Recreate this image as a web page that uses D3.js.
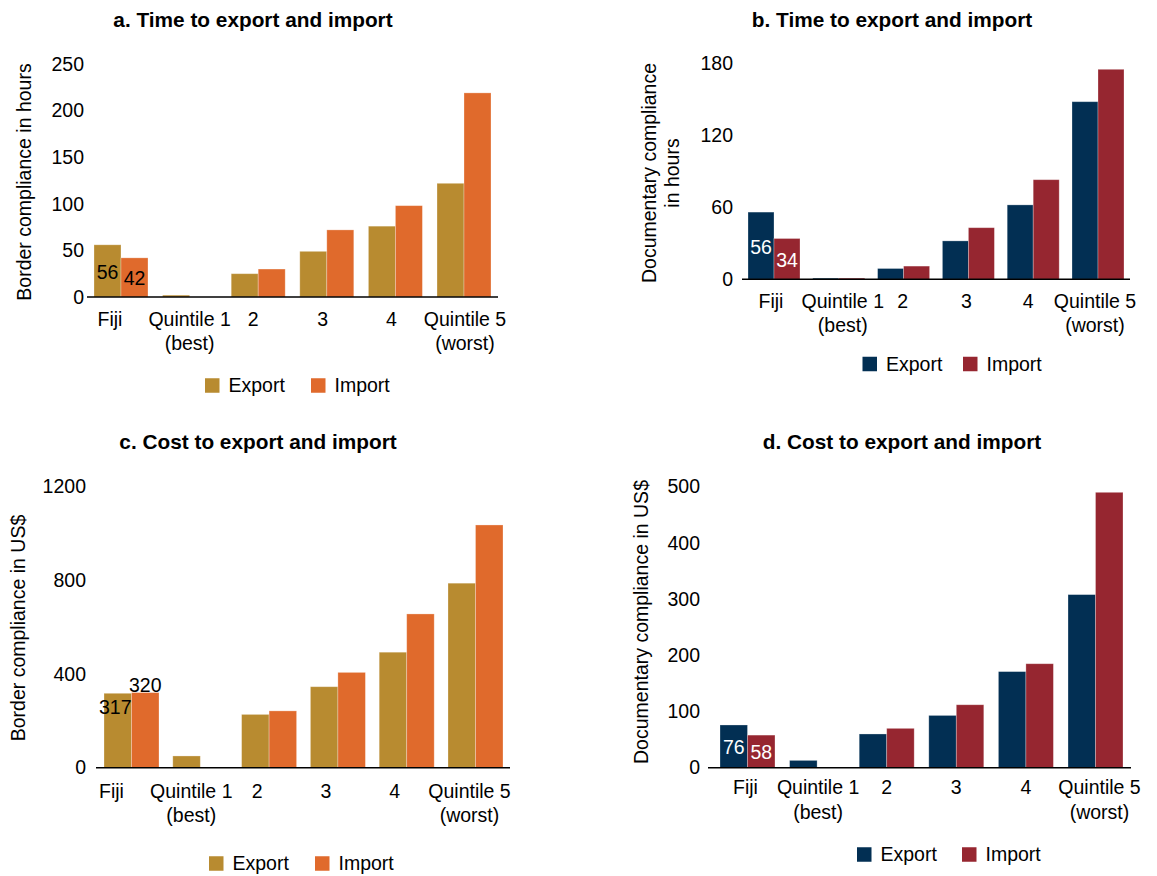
<!DOCTYPE html>
<html>
<head>
<meta charset="utf-8">
<script src="https://cdn.jsdelivr.net/npm/d3@7/dist/d3.min.js"></script>
<style>
  html, body { margin: 0; padding: 0; background: #fff; }
  svg { display: block; font-family: "Liberation Sans", Arial, Helvetica, sans-serif; }
</style>
</head>
<body>
<svg id="chart" width="1157" height="876"></svg>
<script>
// ---- Data ----
const categories = [["Fiji"], ["Quintile 1", "(best)"], ["2"], ["3"], ["4"], ["Quintile 5", "(worst)"]];
const seriesNames = ["Export", "Import"];

const timeBorderExport = [56, 2, 25, 49, 76, 122];
const timeBorderImport = [42, 0, 30, 72, 98, 219];
const timeDocExport    = [56, 1, 9, 32, 62, 148];
const timeDocImport    = [34, 1, 11, 43, 83, 175];
const costBorderExport = [317, 50, 227, 345, 492, 786];
const costBorderImport = [320, 0, 242, 406, 655, 1034];
const costDocExport    = [76, 13, 60, 93, 171, 308];
const costDocImport    = [58, 0, 70, 112, 185, 490];

const ticksA = [0, 50, 100, 150, 200, 250];
const ticksB = [0, 60, 120, 180];
const ticksC = [0, 400, 800, 1200];
const ticksD = [0, 100, 200, 300, 400, 500];

const titles = ["a. Time to export and import", "b. Time to export and import",
                "c. Cost to export and import", "d. Cost to export and import"];
const yTitles = [["Border compliance in hours"], ["Documentary compliance", "in hours"],
                 ["Border compliance in US$"], ["Documentary compliance in US$"]];

// ---- Styles / layout ----
const warm = ["#B88B30", "#E06A2C"];
const cool = ["#022F53", "#962630"];
const FS = 19.5;

const panels = [
  { title: titles[0], titleX: 253, titleY: 20, yTitle: yTitles[0], yTitleX: 24, yTitleY: 182,
    exp: timeBorderExport, imp: timeBorderImport, ticks: ticksA, yMax: 250, yRange: [297, 64], tickX: 84,
    xRange: [94, 491], pad: 0.213, axis: [87, 498], label1Y: 319, labelDx: [-11, 0, -5, -4, -4, 1],
    legendY: 385.5, legendX: [205, 311], colors: warm, valColor: "#000", valMode: "mid" },
  { title: titles[1], titleX: 892, titleY: 20, yTitle: yTitles[1], yTitleX: 660.5, yTitleY: 173,
    exp: timeDocExport, imp: timeDocImport, ticks: ticksB, yMax: 180, yRange: [279.3, 63.3], tickX: 733,
    xRange: [748, 1124], pad: 0.1975, axis: [742, 1130], label1Y: 301, labelDx: [-3, 4, -1, -2, -5, -3],
    legendY: 364, legendX: [862.5, 963], colors: cool, valColor: "#fff", valMode: "mid" },
  { title: titles[2], titleX: 258, titleY: 442, yTitle: yTitles[2], yTitleX: 18, yTitleY: 628,
    exp: costBorderExport, imp: costBorderImport, ticks: ticksC, yMax: 1200, yRange: [767.7, 486], tickX: 86,
    xRange: [104, 503], pad: 0.2006, axis: [96, 510], label1Y: 790.7, labelDx: [-20, -9, -12, -12, -12, -6],
    legendY: 863.5, legendX: [209, 315], colors: warm, valColor: "#000", valMode: "c" },
  { title: titles[3], titleX: 902, titleY: 442, yTitle: yTitles[3], yTitleX: 641, yTitleY: 622,
    exp: costDocExport, imp: costDocImport, ticks: ticksD, yMax: 500, yRange: [767.7, 486.7], tickX: 700,
    xRange: [720, 1123], pad: 0.21, axis: [708, 1131], label1Y: 787.3, labelDx: [-2, 1, 0, 0, 0, 4],
    legendY: 854.5, legendX: [857, 962], colors: cool, valColor: "#fff", valMode: "mid" }
];

const svg = d3.select("#chart");

panels.forEach(p => {
  const g = svg.append("g");
  const idx = d3.range(categories.length);
  const x = d3.scaleBand().domain(idx).range(p.xRange).paddingInner(p.pad).paddingOuter(0);
  const xs = d3.scaleBand().domain([0, 1]).range([0, x.bandwidth()]).padding(0);
  const y = d3.scaleLinear().domain([0, p.yMax]).range(p.yRange);

  // title
  g.append("text").attr("x", p.titleX).attr("y", p.titleY).attr("dy", "0.35em")
    .attr("text-anchor", "middle").attr("font-weight", "bold").attr("font-size", 20.8)
    .attr("fill", "#000").text(p.title);

  // y axis (labels only, no line)
  const yAxis = d3.axisLeft(y).tickValues(p.ticks).tickFormat(d3.format("d")).tickSize(0).tickPadding(0);
  const ya = g.append("g").attr("transform", `translate(${p.tickX},0)`).call(yAxis);
  ya.select(".domain").remove();
  ya.selectAll("text").attr("font-size", FS).attr("fill", "#000")
    .attr("font-family", "'Liberation Sans', Arial, Helvetica, sans-serif");

  // y title
  const yt = g.append("text").attr("transform", `translate(${p.yTitleX},${p.yTitleY}) rotate(-90)`)
    .attr("text-anchor", "middle").attr("font-size", FS).attr("fill", "#000");
  const nL = p.yTitle.length;
  p.yTitle.forEach((t, i) => {
    yt.append("tspan").attr("x", 0).attr("y", (i - (nL - 1) / 2) * 23).attr("dy", "0.35em").text(t);
  });

  // bars
  const rows = [];
  idx.forEach(i => {
    rows.push({ i, s: 0, v: p.exp[i] });
    rows.push({ i, s: 1, v: p.imp[i] });
  });
  g.selectAll("rect.bar").data(rows).enter().append("rect").attr("class", "bar")
    .attr("x", d => x(d.i) + xs(d.s))
    .attr("y", d => y(d.v))
    .attr("width", xs.bandwidth())
    .attr("height", d => y(0) - y(d.v))
    .attr("fill", d => p.colors[d.s])
    .attr("stroke", "#fff").attr("stroke-opacity", 0.35).attr("stroke-width", 0.8);

  // baseline axis
  g.append("line").attr("x1", p.axis[0]).attr("x2", p.axis[1])
    .attr("y1", y(0)).attr("y2", y(0)).attr("stroke", "#000").attr("stroke-width", 1.4);

  // x labels
  idx.forEach(i => {
    const t = g.append("text").attr("text-anchor", "middle").attr("font-size", FS).attr("fill", "#000");
    categories[i].forEach((line, k) => {
      t.append("tspan").attr("x", x(i) + x.bandwidth() / 2 + p.labelDx[i])
        .attr("y", p.label1Y + k * 24.5).attr("dy", "0.35em").text(line);
    });
  });

  // value labels for Fiji
  const ex = p.exp[0], im = p.imp[0];
  if (p.valMode === "mid") {
    [[0, ex], [1, im]].forEach(([s, v]) => {
      g.append("text").attr("x", x(0) + xs(s) + xs.bandwidth() / 2)
        .attr("y", (y(v) + y(0)) / 2 + 1).attr("dy", "0.35em")
        .attr("text-anchor", "middle").attr("font-size", FS).attr("fill", p.valColor).text(v);
    });
  } else {
    g.append("text").attr("x", x(0) + xs(0) + xs.bandwidth())
      .attr("y", y(ex) + 14).attr("dy", "0.35em")
      .attr("text-anchor", "end").attr("font-size", FS).attr("fill", p.valColor).text(ex);
    g.append("text").attr("x", x(0) + xs(1) + xs.bandwidth() / 2)
      .attr("y", y(im) - 7).attr("dy", "0.35em")
      .attr("text-anchor", "middle").attr("font-size", FS).attr("fill", p.valColor).text(im);
  }

  // legend
  seriesNames.forEach((name, s) => {
    g.append("rect").attr("x", p.legendX[s]).attr("y", p.legendY - 7.25)
      .attr("width", 14.5).attr("height", 14.5).attr("fill", p.colors[s]);
    g.append("text").attr("x", p.legendX[s] + 23.5).attr("y", p.legendY).attr("dy", "0.35em")
      .attr("font-size", FS).attr("fill", "#000").text(name);
  });
});
</script>
</body>
</html>
